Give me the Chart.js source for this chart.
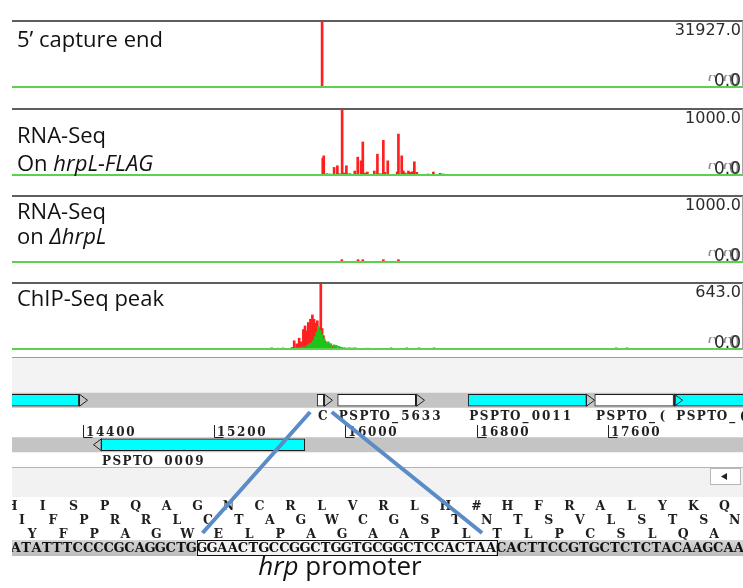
<!DOCTYPE html>
<html>
<head>
<meta charset="utf-8">
<title>hrp promoter - browser view</title>
<script src="https://cdn.jsdelivr.net/npm/chart.js@4.4.1/dist/chart.umd.min.js"></script>
<style>
  html, body { margin: 0; padding: 0; background: #fff; }
  #page { position: relative; width: 743px; height: 588px; overflow: hidden; background: #fff; }
  #page canvas { position: absolute; left: 0; }
</style>
</head>
<body>
<div id="page"></div>
<script>
// genome window (bp)
const viewStart = 13969;
const viewEnd = 18422;

// track titles (second piece of a line is italic)
const trackNames = [
  [["5’ capture end"]],
  [["RNA-Seq"], ["On ", "hrpL-FLAG"]],
  [["RNA-Seq"], ["on ", "ΔhrpL"]],
  [["ChIP-Seq peak"]]
];
const trackMax = [31927, 1000, 1000, 643];

// 5' capture end
const capturePos = [15858];
const captureVal = [31927];

// RNA-Seq on hrpL-FLAG
const rnaFlagPos = [15862, 15868, 15875, 15888, 15907, 15931, 15951, 15962, 15980, 15992,
  16006, 16016, 16028, 16040, 16057, 16075, 16095, 16106, 16120, 16134,
  16150, 16176, 16195, 16213, 16231, 16240, 16258, 16280, 16315, 16323,
  16343, 16353, 16365, 16384, 16394, 16408, 16420, 16435, 16502, 16536, 16577, 16597];
const rnaFlagVal = [254, 290, 10, 20, 15, 115, 140, 20, 1000, 30,
  140, 15, 20, 10, 60, 270, 215, 500, 30, 45,
  10, 60, 315, 20, 525, 40, 215, 10, 45, 620,
  290, 60, 30, 60, 40, 50, 200, 40, 15, 45, 25, 15];

// RNA-Seq on deltaHrpL
const rnaDeltaPos = [15978, 16077, 16106, 16231, 16323];
const rnaDeltaVal = [35, 35, 35, 35, 35];

// ChIP-Seq (two replicates)
const chipRedPos = [15551, 15590, 15620, 15651, 15675, 15688, 15704, 15718, 15730, 15744,
  15754, 15765, 15774, 15787, 15799, 15809, 15819, 15829, 15840, 15850,
  15858, 15866, 15876, 15890, 15907, 15923, 15943, 15967, 15988, 16028, 16048, 16120, 16140];
const chipRedVal = [3, 8, 10, 6, 15, 80, 50, 105, 70, 190,
  225, 178, 258, 290, 332, 290, 250, 275, 200, 643,
  200, 130, 80, 60, 50, 30, 20, 15, 10, 10, 8, 8, 8];
const chipGreenPos = [15551, 15704, 15724, 15744, 15765, 15774, 15785, 15795, 15805, 15815,
  15826, 15835, 15846, 15856, 15870, 15882, 15896, 15911, 15931, 15945,
  15961, 15978, 15998, 16018, 16039, 16059, 16278, 16374, 16449, 16540, 17649, 17716];
const chipGreenVal = [12, 10, 15, 20, 30, 40, 50, 60, 80, 120,
  163, 220, 180, 140, 100, 60, 70, 50, 40, 35,
  25, 15, 12, 10, 8, 12, 12, 12, 12, 12, 12, 12];

const trackRed = [[capturePos, captureVal], [rnaFlagPos, rnaFlagVal], [rnaDeltaPos, rnaDeltaVal], [chipRedPos, chipRedVal]];
const trackGreen = [null, null, null, [chipGreenPos, chipGreenVal]];

// genes
const geneLabels = ['', 'C', 'PSPTO_5633', 'PSPTO_0011', 'PSPTO_(', 'PSPTO_(', 'PSPTO 0009'];
const geneStart = [13400, 15828, 15953, 16748, 17519, 18008, 14510];
const geneEnd = [14376, 15868, 16428, 17468, 17999, 18900, 15752];
const geneStrand = ['+', '+', '+', '+', '+', '+', '-'];
const geneKind = ['cds', 'misc', 'misc', 'cds', 'misc', 'cds', 'cds'];
const strands = ['+', '-'];
const rulerTicks = [14400, 15200, 16000, 16800, 17600];

// sequence
const aaFrames = ['HISPQAGNCRLVRLH#HFRALYKQ', 'IFPRRLCTAGWCGSTNTSVLSTSN', 'YFPAGWELPAGAAPLTLPCSLQA'];
const dnaBefore = 'ATATTTCCCCGCAGGCTG';
const dnaPromoter = 'GGAACTGCCGGCTGGTGCGGCTCCACTAA';
const dnaAfter = 'CACTTCCGTGCTCTCTACAAGCAA';
const promoterName = ['hrp', ' promoter'];

// ---- layout ----
const W = 743;
const trackTops = [21, 109, 196, 283];
const trackSpan = 66;
const trackLabelY = [[26], [34, 62], [23, 48], [23]];
const page = document.getElementById('page');

function makeCanvas(top, height) {
  const c = document.createElement('canvas');
  c.width = W;
  c.height = height;
  c.style.top = top + 'px';
  page.appendChild(c);
  return c.getContext('2d');
}

function toPoints(pos, val) {
  return pos.map((p, i) => ({ x: p, y: val[i] }));
}

// letters in fixed cells (sequence-viewer look)
function spacedText(ctx, text, x, y, cell) {
  ctx.textAlign = 'center';
  for (let k = 0; k < text.length; k++) ctx.fillText(text[k], x + cell * (k + 0.5), y);
}

const trackDecor = {
  id: 'trackDecor',
  afterDatasetsDraw(chart, args, opts) {
    const { ctx, chartArea: a } = chart;
    const i = opts.index;
    ctx.save();
    ctx.fillStyle = '#5e5e5e';
    ctx.fillRect(a.left, a.top - 1, a.right - a.left, 2);
    ctx.fillStyle = '#5bd24b';
    ctx.fillRect(a.left, a.bottom - 1, a.right - a.left, 2);
    ctx.fillStyle = '#a8a8a8';
    ctx.fillRect(a.right - 1, a.top, 1, a.bottom - a.top);

    // title
    ctx.fillStyle = '#111';
    ctx.textAlign = 'left';
    ctx.textBaseline = 'alphabetic';
    trackNames[i].forEach((line, l) => {
      let cx = 17;
      line.forEach((seg, k) => {
        ctx.font = (k === 1 ? 'italic ' : '') + '22px "Open Sans"';
        ctx.fillText(seg, cx, a.top + trackLabelY[i][l]);
        cx += ctx.measureText(seg).width;
      });
    });

    // scale labels
    ctx.font = '16px "DejaVu Sans"';
    ctx.textAlign = 'right';
    ctx.fillStyle = '#2b2b2b';
    ctx.fillText(trackMax[i].toFixed(1), a.right - 2, a.top + 13.5);
    ctx.save();
    ctx.beginPath();
    ctx.rect(690, a.bottom - 12, 50, 6);
    ctx.clip();
    ctx.fillStyle = '#8a8a8a';
    ctx.fillText((0).toFixed(1), a.right - 10, a.bottom - 1.5);
    ctx.restore();
    ctx.fillStyle = '#2b2b2b';
    ctx.font = '17px "DejaVu Sans"';
    ctx.fillText((0).toFixed(1), a.right - 2, a.bottom - 1.5);
    ctx.fillStyle = 'rgba(60,60,60,0.6)';
    ctx.fillText('0', a.right - 3.5, a.bottom - 1.5);
    ctx.restore();
  }
};

trackNames.forEach((name, i) => {
  const ctx = makeCanvas(trackTops[i] - 20, 20 + trackSpan + 2);
  const datasets = [];
  if (trackGreen[i]) {
    datasets.push({
      data: toPoints(...trackGreen[i]),
      backgroundColor: '#1fc41a',
      order: 0
    });
  }
  datasets.push({
    data: toPoints(...trackRed[i]),
    backgroundColor: '#ff1f1f',
    order: 1
  });
  datasets.forEach(d => Object.assign(d, { barThickness: 2, grouped: false, borderWidth: 0, clip: 0 }));

  new Chart(ctx, {
    type: 'bar',
    data: { datasets },
    options: {
      responsive: false,
      animation: false,
      devicePixelRatio: 1,
      layout: { padding: { left: 12, right: 0, top: 20, bottom: 2 } },
      plugins: {
        legend: { display: false },
        tooltip: { enabled: false },
        trackDecor: { index: i }
      },
      scales: {
        x: { type: 'linear', min: viewStart, max: viewEnd, offset: false, display: false },
        y: { min: 0, max: trackMax[i], display: false }
      }
    },
    plugins: [trackDecor]
  });
});

// ---- gene track + sequence ----
const BOTTOM_TOP = 357;
const Y = v => v - BOTTOM_TOP;
const seqCell = 10.33;
const seqStart = 10.6;
const cellLeft = i => seqStart + seqCell * i;
const aaShift = [-0.4, 0.6, 1.6];
const aaRowY = [509.5, 524, 537.5];

const browserDecor = {
  id: 'browserDecor',
  beforeDatasetsDraw(chart) {
    const { ctx, chartArea: a, scales: { y } } = chart;
    const w = a.right - a.left;
    ctx.save();
    ctx.fillStyle = '#9a9a9a';
    ctx.fillRect(a.left, Y(357), w, 1);
    ctx.fillStyle = '#f3f3f3';
    ctx.fillRect(a.left, Y(358), w, 35);
    ctx.fillStyle = '#c4c4c4';
    strands.forEach((s, i) => {
      const cy = y.getPixelForValue(i);
      ctx.fillRect(a.left, cy - 7.5, w, 15);
    });
    ctx.fillStyle = '#b4b4b4';
    ctx.fillRect(a.left, Y(467), w, 1);
    ctx.fillStyle = '#f2f2f2';
    ctx.fillRect(a.left, Y(468), w, 29);

    // scroll button
    ctx.fillStyle = '#fff';
    ctx.fillRect(710, Y(468), 31, 17);
    ctx.strokeStyle = '#b8b8b8';
    ctx.strokeRect(710.5, Y(468) + 0.5, 30, 16);
    ctx.fillStyle = '#222';
    ctx.beginPath();
    ctx.moveTo(721, Y(476.5));
    ctx.lineTo(727, Y(473));
    ctx.lineTo(727, Y(480));
    ctx.closePath();
    ctx.fill();

    // dna band
    const g = ctx.createLinearGradient(0, Y(540), 0, Y(556));
    g.addColorStop(0, '#d6d6d6');
    g.addColorStop(1, '#bcbcbc');
    ctx.fillStyle = g;
    ctx.fillRect(a.left, Y(540), w, 16);
    const b0 = cellLeft(dnaBefore.length);
    const b1 = cellLeft(dnaBefore.length + dnaPromoter.length);
    ctx.fillStyle = '#f3f3f3';
    ctx.fillRect(b0, Y(540), b1 - b0, 16);
    ctx.strokeStyle = '#111';
    ctx.lineWidth = 1;
    ctx.strokeRect(Math.round(b0) + 0.5, Y(540) + 0.5, Math.round(b1 - b0), 15);
    ctx.restore();
  },
  afterDatasetsDraw(chart) {
    const { ctx, chartArea: a, scales: { x, y } } = chart;
    ctx.save();
    ctx.beginPath();
    ctx.rect(a.left, 0, a.right - a.left, chart.height);
    ctx.clip();

    // arrow heads
    ctx.strokeStyle = '#222';
    ctx.lineWidth = 1;
    geneLabels.forEach((lab, i) => {
      const cy = y.getPixelForValue(strands.indexOf(geneStrand[i]));
      ctx.beginPath();
      if (geneStrand[i] === '+') {
        const xe = Math.round(x.getPixelForValue(geneEnd[i])) + 0.5;
        ctx.moveTo(xe, cy - 6);
        ctx.lineTo(xe + 8, cy);
        ctx.lineTo(xe, cy + 6);
      } else {
        const xs = Math.round(x.getPixelForValue(geneStart[i])) + 0.5;
        ctx.moveTo(xs, cy - 6);
        ctx.lineTo(xs - 8, cy);
        ctx.lineTo(xs, cy + 6);
      }
      ctx.closePath();
      ctx.stroke();
    });

    // gene names
    ctx.fillStyle = '#222';
    ctx.font = 'bold 12px "DejaVu Serif"';
    geneLabels.forEach((lab, i) => {
      const cy = y.getPixelForValue(strands.indexOf(geneStrand[i]));
      spacedText(ctx, lab, x.getPixelForValue(geneStart[i]) + 0.5, cy + 20, seqCell);
    });

    // ruler
    ctx.strokeStyle = '#222';
    rulerTicks.forEach(t => {
      const px = Math.round(x.getPixelForValue(t)) + 0.5;
      ctx.beginPath();
      ctx.moveTo(px, Y(425));
      ctx.lineTo(px, Y(437.5));
      ctx.lineTo(px + 9, Y(437.5));
      ctx.stroke();
      spacedText(ctx, String(t), px + 1.5, Y(435.5), 10.1);
    });

    // translated frames and dna
    ctx.fillStyle = '#1e1e1e';
    ctx.font = 'bold 12.5px "DejaVu Serif"';
    aaFrames.forEach((seq, f) => {
      for (let i = 0; i < seq.length; i++) {
        spacedText(ctx, seq[i], cellLeft(aaShift[f] + 3 * i), Y(aaRowY[f]), seqCell);
      }
    });
    ctx.fillStyle = '#111';
    ctx.font = 'bold 13px "DejaVu Serif"';
    spacedText(ctx, dnaBefore + dnaPromoter + dnaAfter, seqStart, Y(552), seqCell);
    ctx.restore();

    // connector lines: gene C -> boxed promoter
    const b0 = cellLeft(dnaBefore.length);
    const b1 = cellLeft(dnaBefore.length + dnaPromoter.length);
    const c0 = x.getPixelForValue(geneStart[1]);
    const c1 = x.getPixelForValue(geneEnd[1]) + 8;
    ctx.save();
    ctx.strokeStyle = '#5a8cc8';
    ctx.lineWidth = 4;
    ctx.beginPath();
    ctx.moveTo(c0 - 7, Y(412));
    ctx.lineTo(b0 + 6, Y(533));
    ctx.moveTo(c1, Y(412));
    ctx.lineTo(b1 - 14, Y(533));
    ctx.stroke();

    // promoter caption
    ctx.fillStyle = '#111';
    ctx.textAlign = 'left';
    ctx.font = 'italic 26px "Open Sans"';
    const w0 = ctx.measureText(promoterName[0]).width;
    ctx.font = '26px "Open Sans"';
    const w1 = ctx.measureText(promoterName[1]).width;
    const tx = 340 - (w0 + w1) / 2;
    ctx.font = 'italic 26px "Open Sans"';
    ctx.fillText(promoterName[0], tx, Y(575));
    ctx.font = '26px "Open Sans"';
    ctx.fillText(promoterName[1], tx + w0, Y(575));
    ctx.restore();
  }
};

const geneCtx = makeCanvas(BOTTOM_TOP, 588 - BOTTOM_TOP);
new Chart(geneCtx, {
  type: 'bar',
  data: {
    labels: strands,
    datasets: [{
      data: geneLabels.map((lab, i) => ({ x: [geneStart[i], geneEnd[i]], y: geneStrand[i] })),
      backgroundColor: geneKind.map(k => (k === 'cds' ? '#00ffff' : '#ffffff')),
      borderColor: '#1a1a1a',
      borderWidth: 1,
      borderSkipped: false,
      barThickness: 12,
      clip: 0
    }]
  },
  options: {
    indexAxis: 'y',
    responsive: false,
    animation: false,
    devicePixelRatio: 1,
    layout: { padding: { left: 12, right: 0, top: 21, bottom: 121 } },
    plugins: { legend: { display: false }, tooltip: { enabled: false } },
    scales: {
      x: { type: 'linear', min: viewStart, max: viewEnd, offset: false, display: false },
      y: { type: 'category', offset: true, display: false }
    }
  },
  plugins: [browserDecor]
});
</script>
</body>
</html>
